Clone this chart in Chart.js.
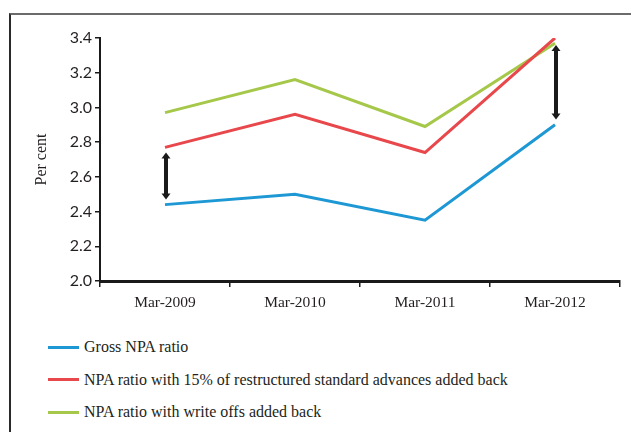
<!DOCTYPE html>
<html>
<head>
<meta charset="utf-8">
<script src="https://cdn.jsdelivr.net/npm/chart.js@4/dist/chart.umd.min.js"></script>
<style>
  html, body { margin: 0; padding: 0; background: #fff; }
  body { width: 631px; height: 432px; position: relative; overflow: hidden; }
  #frame {
    position: absolute; left: 9px; top: 13px; width: 640px; height: 440px;
    border-top: 2px solid #6b6b6b; border-left: 2px solid #2a2a2a;
  }
  #wrap { position: absolute; left: 10px; top: 15px; width: 621px; height: 300px; }
  #legend { position: absolute; left: 48px; top: 331px; font-family: "Liberation Serif", serif; font-size: 16px; color: #231f20; }
  .item { display: flex; align-items: center; height: 32.5px; }
  .swatch { width: 31px; height: 3px; margin-right: 5px; }
</style>
</head>
<body>
<div id="frame"></div>
<div id="wrap"><canvas id="chart"></canvas></div>
<div id="legend"></div>
<script>
// Quarter-end dates and NPA ratios (per cent)
const categories = ["Mar-2009", "Mar-2010", "Mar-2011", "Mar-2012"];
const grossNpa = [2.44, 2.50, 2.35, 2.90];
const npaRestructured = [2.77, 2.96, 2.74, 3.40];
const npaWriteOffs = [2.97, 3.16, 2.89, 3.37];
const seriesNames = [
  "Gross NPA ratio",
  "NPA ratio with 15% of restructured standard advances added back",
  "NPA ratio with write offs added back"
];
const yTicks = [2.0, 2.2, 2.4, 2.6, 2.8, 3.0, 3.2, 3.4];
// Double-headed arrows marking the gap between series: category index, lower and upper value
const arrowIndex = [0, 3];
const arrowLow = [2.47, 2.93];
const arrowHigh = [2.74, 3.36];

const colors = ["#1e98d4", "#e8484b", "#a6c84a"];

const arrowPlugin = {
  id: "gapArrows",
  afterDatasetsDraw(chart) {
    const ctx = chart.ctx, xs = chart.scales.x, ys = chart.scales.y;
    ctx.save();
    ctx.strokeStyle = "#1a1a1a";
    ctx.fillStyle = "#1a1a1a";
    ctx.lineWidth = 4;
    arrowIndex.forEach((idx, i) => {
      const x = xs.getPixelForValue(idx) + 1;
      const yTop = ys.getPixelForValue(arrowHigh[i]);
      const yBot = ys.getPixelForValue(arrowLow[i]);
      const head = 6, half = 4.5;
      ctx.beginPath();
      ctx.moveTo(x, yTop + head - 1);
      ctx.lineTo(x, yBot - head + 1);
      ctx.stroke();
      ctx.beginPath();
      ctx.moveTo(x, yTop); ctx.lineTo(x - half, yTop + head); ctx.lineTo(x + half, yTop + head);
      ctx.closePath(); ctx.fill();
      ctx.beginPath();
      ctx.moveTo(x, yBot); ctx.lineTo(x - half, yBot - head); ctx.lineTo(x + half, yBot - head);
      ctx.closePath(); ctx.fill();
    });
    ctx.restore();
  }
};

const chart = new Chart(document.getElementById("chart"), {
  type: "line",
  data: {
    labels: categories,
    datasets: [grossNpa, npaRestructured, npaWriteOffs].map((d, i) => ({
      label: seriesNames[i],
      data: d,
      borderColor: colors[i],
      backgroundColor: colors[i],
      borderWidth: 3,
      pointRadius: 0,
      tension: 0,
      fill: false
    }))
  },
  options: {
    responsive: true,
    maintainAspectRatio: false,
    animation: false,
    layout: { padding: { top: 23, right: 11, left: 0, bottom: 0 } },
    plugins: { legend: { display: false }, tooltip: { enabled: false } },
    scales: {
      x: {
        offset: true,
        grid: { offset: true, drawOnChartArea: false, color: "#1a1a1a", tickLength: 6, lineWidth: 1.5 },
        border: { color: "#1a1a1a", width: 3 },
        ticks: { color: "#231f20", font: { family: "Liberation Serif", size: 15.5 }, padding: 7, maxRotation: 0 },
        afterFit(s) { s.height = 34; }
      },
      y: {
        min: 2.0, max: 3.4,
        afterBuildTicks(s) { s.ticks = yTicks.map(v => ({ value: v })); },
        grid: { drawOnChartArea: false, color: "#1a1a1a", tickLength: 5, lineWidth: 1.5 },
        border: { color: "#1a1a1a", width: 2 },
        ticks: {
          color: "#231f20", font: { family: "Lato", size: 16 }, padding: 3,
          callback: v => Number(v).toFixed(1)
        },
        title: { display: true, text: "Per cent", color: "#231f20", font: { family: "Liberation Serif", size: 16 }, padding: { top: 22, bottom: 0 } },
        afterFit(s) { s.width = 90; }
      }
    }
  },
  plugins: [arrowPlugin]
});

// Legend stacked one entry per row
const legend = document.getElementById("legend");
chart.data.datasets.forEach(ds => {
  const row = document.createElement("div");
  row.className = "item";
  const sw = document.createElement("span");
  sw.className = "swatch";
  sw.style.background = ds.borderColor;
  const tx = document.createElement("span");
  tx.textContent = ds.label;
  row.appendChild(sw); row.appendChild(tx);
  legend.appendChild(row);
});
</script>
</body>
</html>
